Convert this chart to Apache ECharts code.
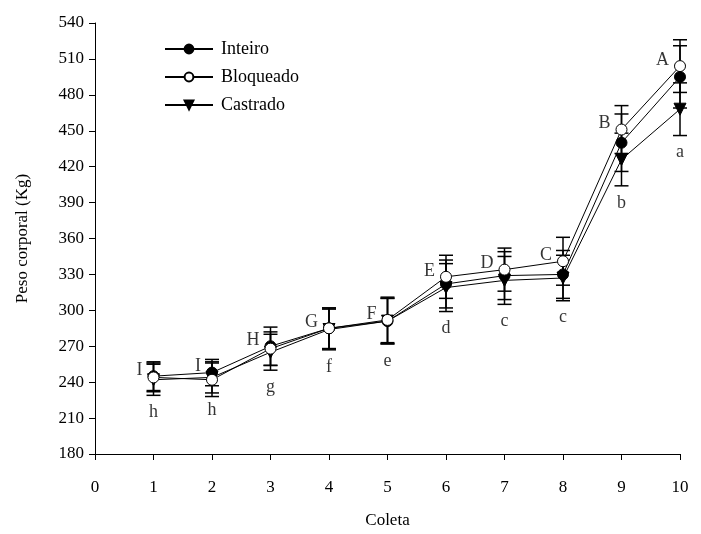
<!DOCTYPE html>
<html>
<head>
<meta charset="utf-8">
<script src="https://cdn.jsdelivr.net/npm/echarts@6/dist/echarts.min.js"></script>
<style>
  html, body { margin: 0; padding: 0; background: #fff; }
  #chart { width: 701px; height: 534px; }
</style>
</head>
<body>
<div id="chart"></div>
<script>
const COLETA = [1, 2, 3, 4, 5, 6, 7, 8, 9, 10];

const INTEIRO = [245, 248, 270, 285, 291, 322, 329, 330, 440, 495];
const BLOQUEADO = [244, 242, 268, 285, 292, 328, 334, 341, 451, 504];
const CASTRADO = [242, 244, 265, 284, 291, 319, 325, 327, 426, 468];

// erro padrão (barra ±)
const INTEIRO_ERR = [12, 11, 16, 17, 19, 20, 20, 20, 24, 26];
const BLOQUEADO_ERR = [12, 14, 14, 17, 19, 18, 18, 20, 20, 22];
const CASTRADO_ERR = [13, 13, 15, 17, 19, 20, 20, 19, 22, 22];

const LETRAS_MAIUSC = ["I", "I", "H", "G", "F", "E", "D", "C", "B", "A"];
const LETRAS_MINUSC = ["h", "h", "g", "f", "e", "d", "c", "c", "b", "a"];

const FONT = "Liberation Serif";

function errData(values, errs) {
  return COLETA.map((x, i) => [x, values[i] - errs[i], values[i] + errs[i]]);
}

function renderErrorBar(params, api) {
  const x = api.value(0);
  const lo = api.coord([x, api.value(1)]);
  const hi = api.coord([x, api.value(2)]);
  const half = 7;
  const style = { stroke: "#000", lineWidth: 1.5 };
  return {
    type: "group",
    children: [
      { type: "line", shape: { x1: lo[0], y1: lo[1], x2: hi[0], y2: hi[1] }, style },
      { type: "line", shape: { x1: hi[0] - half, y1: hi[1], x2: hi[0] + half, y2: hi[1] }, style },
      { type: "line", shape: { x1: lo[0] - half, y1: lo[1], x2: lo[0] + half, y2: lo[1] }, style },
    ],
  };
}

function errorSeries(values, errs) {
  return {
    type: "custom",
    renderItem: renderErrorBar,
    encode: { x: 0, y: [1, 2] },
    data: errData(values, errs),
    z: 1,
    silent: true,
  };
}

function lineSeries(name, values, symbol, fill, rotate) {
  return {
    name,
    type: "line",
    data: COLETA.map((x, i) => [x, values[i]]),
    symbol,
    symbolSize: symbol === "triangle" ? 12 : 11,
    symbolRotate: rotate || 0,
    showSymbol: true,
    lineStyle: { color: "#000", width: 1 },
    itemStyle: { color: fill, borderColor: "#000", borderWidth: 1 },
    z: 3,
  };
}

const chart = echarts.init(document.getElementById("chart"), null, { renderer: "canvas" });

chart.setOption({
  animation: false,
  backgroundColor: "#fff",
  textStyle: { fontFamily: FONT, color: "#000" },
  grid: { left: 95, right: 21, top: 23, bottom: 78, containLabel: false },
  legend: {
    orient: "vertical",
    left: 159,
    top: 35,
    itemWidth: 48,
    itemHeight: 11,
    itemGap: 10,
    textStyle: { fontFamily: FONT, fontSize: 18, color: "#000", padding: [0, 0, 0, 3] },
    data: ["Inteiro", "Bloqueado", "Castrado"],
  },
  xAxis: {
    type: "value",
    min: 0,
    max: 10,
    interval: 1,
    name: "Coleta",
    nameLocation: "middle",
    nameGap: 58,
    nameTextStyle: { fontFamily: FONT, fontSize: 17, color: "#000" },
    axisLine: { onZero: false, lineStyle: { color: "#000", width: 1 } },
    axisTick: { inside: false, length: 6, lineStyle: { color: "#000" } },
    axisLabel: { margin: 25, fontFamily: FONT, fontSize: 17, color: "#000" },
    splitLine: { show: false },
  },
  yAxis: {
    type: "value",
    min: 180,
    max: 540,
    interval: 30,
    name: "Peso corporal (Kg)",
    nameLocation: "middle",
    nameGap: 64,
    nameRotate: 90,
    nameTextStyle: { fontFamily: FONT, fontSize: 17, color: "#000" },
    axisLine: { show: true, onZero: false, lineStyle: { color: "#000", width: 1 } },
    axisTick: { show: true, inside: false, length: 6, lineStyle: { color: "#000" } },
    axisLabel: { margin: 11, fontFamily: FONT, fontSize: 17, color: "#000" },
    splitLine: { show: false },
  },
  series: [
    errorSeries(INTEIRO, INTEIRO_ERR),
    errorSeries(BLOQUEADO, BLOQUEADO_ERR),
    errorSeries(CASTRADO, CASTRADO_ERR),
    lineSeries("Castrado", CASTRADO, "triangle", "#000", 180),
    lineSeries("Inteiro", INTEIRO, "circle", "#000"),
    lineSeries("Bloqueado", BLOQUEADO, "circle", "#fff"),
    {
      type: "scatter",
      silent: true,
      symbolSize: 0,
      data: COLETA.map((x, i) => [x, Math.max(BLOQUEADO[i], INTEIRO[i]), LETRAS_MAIUSC[i]]),
      label: {
        show: true,
        position: "left",
        distance: 0,
        offset: [-11, -6],
        formatter: (p) => p.data[2],
        fontFamily: FONT,
        fontSize: 18,
        color: "#000",
      },
      z: 5,
    },
    {
      type: "scatter",
      silent: true,
      symbolSize: 0,
      data: COLETA.map((x, i) => [x, CASTRADO[i] - CASTRADO_ERR[i], LETRAS_MINUSC[i]]),
      label: {
        show: true,
        position: "bottom",
        distance: 0,
        offset: [0, 8],
        formatter: (p) => p.data[2],
        fontFamily: FONT,
        fontSize: 18,
        color: "#000",
      },
      z: 5,
    },
  ],
});
</script>
</body>
</html>
